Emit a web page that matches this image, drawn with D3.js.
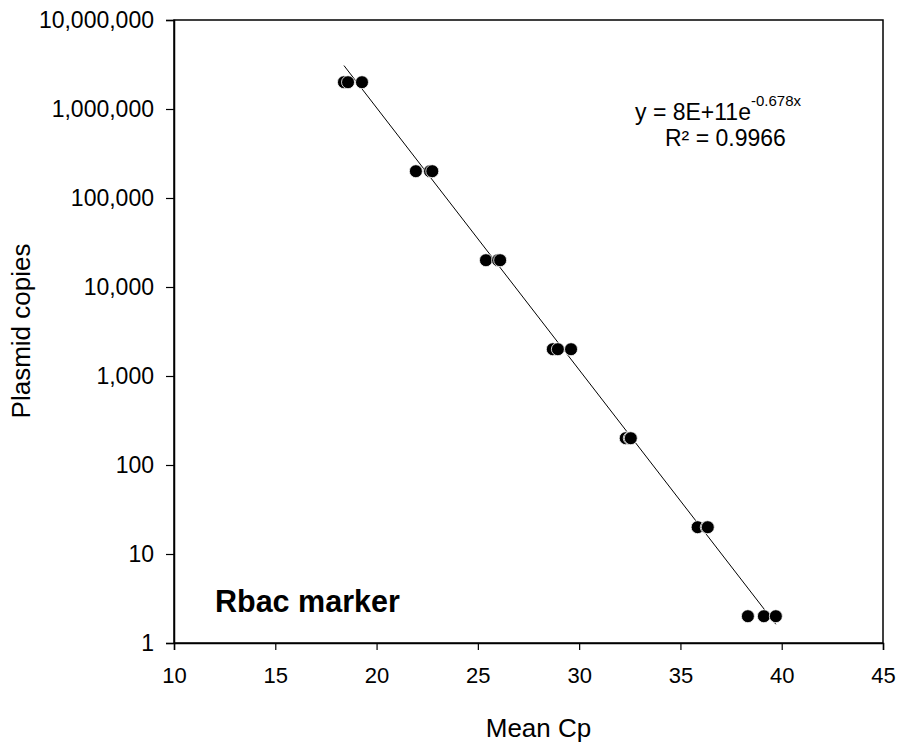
<!DOCTYPE html>
<html>
<head>
<meta charset="utf-8">
<script src="https://cdn.jsdelivr.net/npm/d3@7/dist/d3.min.js"></script>
<style>
  html, body { margin: 0; padding: 0; background: #fff; }
  svg text { font-family: "Liberation Sans", Arial, sans-serif; fill: #000; }
</style>
</head>
<body>
<svg id="chart" width="901" height="745"></svg>
<script>
// ---- data ----
const meanCp   = [18.39, 18.59, 19.28, 21.94, 22.64, 22.75, 25.40, 26.00, 26.10, 28.70, 28.95, 29.60, 32.30, 32.50, 32.55, 35.85, 36.30, 36.35, 38.33, 39.12, 39.71];
const copies   = [2e6, 2e6, 2e6, 2e5, 2e5, 2e5, 2e4, 2e4, 2e4, 2000, 2000, 2000, 200, 200, 200, 20, 20, 20, 2, 2, 2];
const xTicks   = [10, 15, 20, 25, 30, 35, 40, 45];
const yTicks   = [1, 10, 100, 1000, 10000, 100000, 1000000, 10000000];
const fitA = 8e11, fitB = -0.678;
const eqMain = "y = 8E+11e", eqSup = "-0.678x", r2Text = "R² = 0.9966";
const panelLabel = "Rbac marker";
const xTitle = "Mean Cp", yTitle = "Plasmid copies";

// ---- layout ----
const L = 174, R = 883, T = 20, B = 643;
const svg = d3.select("#chart");
const x = d3.scaleLinear().domain([10, 45]).range([L, R]);
const y = d3.scaleLog().domain([1, 1e7]).range([B, T]);

// frame
svg.append("rect").attr("x", L).attr("y", T).attr("width", R - L).attr("height", B - T)
  .attr("fill", "none").attr("stroke", "#000").attr("stroke-width", 1.5);

// axes
const xAxis = d3.axisBottom(x).tickValues(xTicks).tickSize(7).tickPadding(17).tickFormat(d3.format("d"));
const gx = svg.append("g").attr("transform", `translate(0,${B})`).call(xAxis);
gx.select(".domain").attr("stroke-width", 1.5);
gx.selectAll(".tick line").attr("stroke-width", 1.2);
gx.selectAll("text").attr("font-size", 22).attr("font-family", "Liberation Sans, Arial, sans-serif");

const yAxis = d3.axisLeft(y).tickValues(yTicks).tickSize(8).tickPadding(12).tickFormat(d3.format(","));
const gy = svg.append("g").attr("transform", `translate(${L},0)`).call(yAxis);
gy.select(".domain").attr("stroke-width", 1.5);
gy.selectAll(".tick line").attr("stroke-width", 1.2);
gy.selectAll("text").attr("font-size", 23).attr("font-family", "Liberation Sans, Arial, sans-serif");

// fit line
const xmin = d3.min(meanCp), xmax = d3.max(meanCp);
const fitPts = [xmin, xmax].map(v => [v, fitA * Math.exp(fitB * v)]);
svg.append("path")
  .attr("d", d3.line().x(d => x(d[0])).y(d => y(d[1]))(fitPts))
  .attr("fill", "none").attr("stroke", "#000").attr("stroke-width", 1);

// points
svg.append("g").selectAll("circle")
  .data(meanCp.map((v, i) => [v, copies[i]]))
  .join("circle")
  .attr("cx", d => x(d[0])).attr("cy", d => y(d[1])).attr("r", 6.5)
  .attr("fill", "#000").attr("stroke", "#fff").attr("stroke-width", 0.8);

// equation
const eq = svg.append("text").attr("x", 635).attr("y", 120).attr("font-size", 23);
eq.append("tspan").text(eqMain);
eq.append("tspan").attr("font-size", 15).attr("dy", -14).text(eqSup);
svg.append("text").attr("x", 665).attr("y", 146).attr("font-size", 23).text(r2Text);

// panel label
svg.append("text").attr("x", 215).attr("y", 612).attr("font-size", 30.5).attr("font-weight", "bold").text(panelLabel);

// axis titles
svg.append("text").attr("x", (L + R) / 2 + 10).attr("y", 737).attr("text-anchor", "middle")
  .attr("font-size", 26).text(xTitle);
svg.append("text").attr("transform", `translate(30,331) rotate(-90)`).attr("text-anchor", "middle")
  .attr("font-size", 26).text(yTitle);
</script>
</body>
</html>
